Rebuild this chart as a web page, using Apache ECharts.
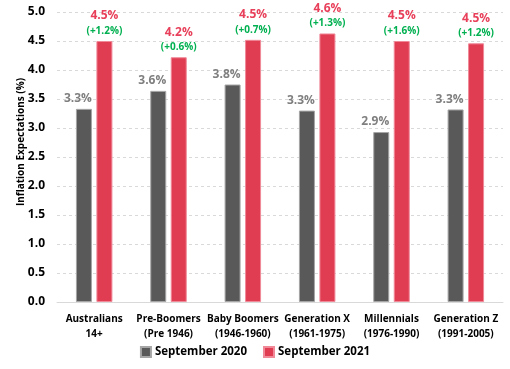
<!DOCTYPE html>
<html><head><meta charset="utf-8">
<script src="https://cdn.jsdelivr.net/npm/echarts@6/dist/echarts.min.js"></script>
<style>html,body{margin:0;padding:0;background:#fff}#c{width:510px;height:369px}</style>
</head><body><div id="c"></div>
<script>
const categories = ['Australians\n14+', 'Pre-Boomers\n(Pre 1946)', 'Baby Boomers\n(1946-1960)', 'Generation X\n(1961-1975)', 'Millennials\n(1976-1990)', 'Generation Z\n(1991-2005)'];
const sep2020 = [3.33, 3.64, 3.75, 3.30, 2.93, 3.32];
const sep2021 = [4.50, 4.22, 4.52, 4.63, 4.50, 4.46];
const labels2020 = ['3.3%', '3.6%', '3.8%', '3.3%', '2.9%', '3.3%'];
const labels2021 = ['4.5%', '4.2%', '4.5%', '4.6%', '4.5%', '4.5%'];
const changes = ['(+1.2%)', '(+0.6%)', '(+0.7%)', '(+1.3%)', '(+1.6%)', '(+1.2%)'];
const yTicks = [0, 0.5, 1, 1.5, 2, 2.5, 3, 3.5, 4, 4.5, 5];

const FONT = 'Open Sans';
const chart = echarts.init(document.getElementById('c'));
chart.setOption({
  animation: false,
  textStyle: { fontFamily: FONT },
  grid: { left: 57, right: 7, top: 12, bottom: 67 },
  legend: {
    bottom: 6, left: 'center', itemWidth: 10, itemHeight: 10, itemGap: 16,
    icon: 'rect',
    textStyle: { fontFamily: FONT, fontWeight: 'bold', fontSize: 11.5, color: '#000', padding: [0, 0, 0, -1] },
    data: ['September 2020', 'September 2021']
  },
  xAxis: {
    type: 'category', data: categories,
    axisLine: { lineStyle: { color: '#d9d9d9' } },
    axisTick: { show: false },
    axisLabel: { fontFamily: FONT, fontWeight: 'bold', fontSize: 10, color: '#000', lineHeight: 15, margin: 10, interval: 0 }
  },
  yAxis: {
    type: 'value', min: yTicks[0], max: yTicks[yTicks.length - 1], interval: 0.5,
    name: 'Inflation Expectations (%)', nameLocation: 'middle', nameGap: 31, nameMoveOverlap: false,
    nameTextStyle: { fontFamily: FONT, fontWeight: 'bold', fontSize: 10, color: '#000', padding: [0, 0, 0, 30] },
    axisLabel: { fontFamily: FONT, fontWeight: 'bold', fontSize: 12, color: '#000', margin: 12, formatter: v => v.toFixed(1) },
    splitLine: { lineStyle: { color: '#d9d9d9', type: [3, 3] } },
    axisLine: { show: false }, axisTick: { show: false }
  },
  series: [
    {
      name: 'September 2020', type: 'bar', data: sep2020, barWidth: 16, barGap: '28%',
      itemStyle: { color: '#595959', borderColor: '#a6a6a6', borderWidth: 1 },
      label: { show: true, position: 'top', distance: 4, offset: [-6, 0], formatter: p => labels2020[p.dataIndex],
        fontFamily: FONT, fontWeight: 'bold', fontSize: 12, color: '#7f7f7f' }
    },
    {
      name: 'September 2021', type: 'bar', data: sep2021, barWidth: 16,
      itemStyle: { color: '#e03c52', borderColor: '#f08a98', borderWidth: 1 },
      label: { show: true, position: 'top', distance: 3,
        formatter: p => '{a|' + labels2021[p.dataIndex] + '}\n{b|' + changes[p.dataIndex] + '}',
        rich: {
          a: { fontFamily: FONT, fontWeight: 'bold', fontSize: 12, color: '#e8405a', lineHeight: 16, align: 'center' },
          b: { fontFamily: FONT, fontWeight: 'bold', fontSize: 10, color: '#00b050', lineHeight: 14, align: 'center' }
        }
      }
    }
  ]
});
</script></body></html>
